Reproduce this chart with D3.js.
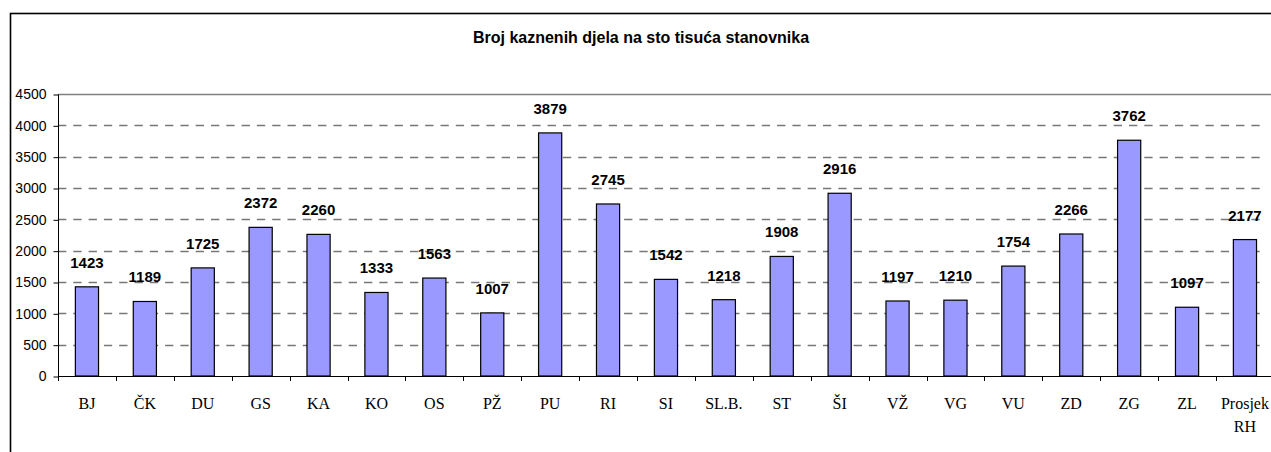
<!DOCTYPE html>
<html>
<head>
<meta charset="utf-8">
<script src="https://cdn.jsdelivr.net/npm/d3@7"></script>
<style>
  html, body { margin: 0; padding: 0; background: #fff; }
  svg { display: block; }
</style>
</head>
<body>
<svg id="chart" width="1271" height="452"></svg>
<script>
const title = "Broj kaznenih djela na sto tisuća stanovnika";
const categories = ["BJ", "ČK", "DU", "GS", "KA", "KO", "OS", "PŽ", "PU", "RI", "SI", "SL.B.", "ST", "ŠI", "VŽ", "VG", "VU", "ZD", "ZG", "ZL", "Prosjek RH"];
const values = [1423, 1189, 1725, 2372, 2260, 1333, 1563, 1007, 3879, 2745, 1542, 1218, 1908, 2916, 1197, 1210, 1754, 2266, 3762, 1097, 2177];
const yTicks = [0, 500, 1000, 1500, 2000, 2500, 3000, 3500, 4000, 4500];

(function () {
const svg = d3.select("#chart");

// outer chart border (extends beyond the visible window on right/bottom)
svg.append("rect")
  .attr("x", 10.5).attr("y", 13.5)
  .attr("width", 1300).attr("height", 500)
  .attr("fill", "#fff").attr("stroke", "#000").attr("stroke-width", 1.6);

const pLeft = 58, pTop = 94, pBottom = 376;
const step = 57.9;
const xEnd = pLeft + step * categories.length;
const x = d3.scaleBand().domain(categories).range([pLeft, xEnd]).paddingInner(0.6).paddingOuter(0.3);
const y = d3.scaleLinear().domain([0, 4500]).range([pBottom, pTop]);

// title
svg.append("text")
  .attr("x", 641).attr("y", 42.5)
  .attr("text-anchor", "middle")
  .attr("font-family", "Arial, 'Liberation Sans', sans-serif")
  .attr("font-weight", "bold").attr("font-size", 16)
  .text(title);

// gridlines
svg.append("g").selectAll("line")
  .data(yTicks.filter(d => d > 0 && d < 4500))
  .join("line")
  .attr("x1", pLeft).attr("x2", 1266)
  .attr("y1", d => Math.round(y(d)) + 0.5).attr("y2", d => Math.round(y(d)) + 0.5)
  .attr("stroke", "#777").attr("stroke-width", 1.5)
  .attr("stroke-dasharray", "8.3,7");

// plot area top border (gray solid)
svg.append("line")
  .attr("x1", pLeft).attr("x2", xEnd)
  .attr("y1", Math.round(y(4500)) + 0.5).attr("y2", Math.round(y(4500)) + 0.5)
  .attr("stroke", "#808080").attr("stroke-width", 1.5);

// bars
svg.append("g").selectAll("rect")
  .data(values)
  .join("rect")
  .attr("x", (d, i) => x(categories[i]))
  .attr("y", d => y(d))
  .attr("width", x.bandwidth())
  .attr("height", d => y(0) - y(d))
  .attr("fill", "#9999ff")
  .attr("stroke", "#000").attr("stroke-width", 1.2);

// value labels
svg.append("g").selectAll("text")
  .data(values)
  .join("text")
  .attr("x", (d, i) => x(categories[i]) + x.bandwidth() / 2)
  .attr("y", d => y(d) - 19)
  .attr("text-anchor", "middle")
  .attr("font-family", "Arial, 'Liberation Sans', sans-serif")
  .attr("font-weight", "bold").attr("font-size", 15)
  .attr("fill", "#000")
  .text(d => d);

// y axis
const yAxis = d3.axisLeft(y).tickValues(yTicks).tickSize(5).tickPadding(7).tickFormat(d3.format("d"));
const gy = svg.append("g").attr("transform", `translate(${pLeft + 0.5},0.5)`).call(yAxis);
gy.select(".domain").attr("stroke", "#000").attr("d", `M0,${y(4500)}V${y(0)}`);
gy.selectAll(".tick line").attr("stroke", "#000");
gy.selectAll(".tick text")
  .attr("font-family", "Arial, 'Liberation Sans', sans-serif")
  .attr("font-size", 14).attr("fill", "#000");

// x axis line
svg.append("line")
  .attr("x1", pLeft).attr("x2", xEnd)
  .attr("y1", pBottom + 0.5).attr("y2", pBottom + 0.5)
  .attr("stroke", "#000").attr("stroke-width", 1);

// x ticks at category boundaries
svg.append("g").selectAll("line")
  .data(d3.range(categories.length + 1))
  .join("line")
  .attr("x1", i => Math.round(pLeft + i * step) + 0.5)
  .attr("x2", i => Math.round(pLeft + i * step) + 0.5)
  .attr("y1", pBottom).attr("y2", pBottom + 5)
  .attr("stroke", "#000");

// x labels
const xl = svg.append("g").selectAll("text")
  .data(categories)
  .join("text")
  .attr("x", d => x(d) + x.bandwidth() / 2)
  .attr("y", 409)
  .attr("text-anchor", "middle")
  .attr("font-family", "'Times New Roman', 'Liberation Serif', serif")
  .attr("font-size", 16).attr("fill", "#000");
xl.each(function(d) {
  const parts = d.split(" ");
  const t = d3.select(this);
  parts.forEach((p, k) => {
    t.append("tspan").attr("x", x(d) + x.bandwidth() / 2).attr("dy", k === 0 ? 0 : 23).text(p);
  });
});
})();
</script>
</body>
</html>
